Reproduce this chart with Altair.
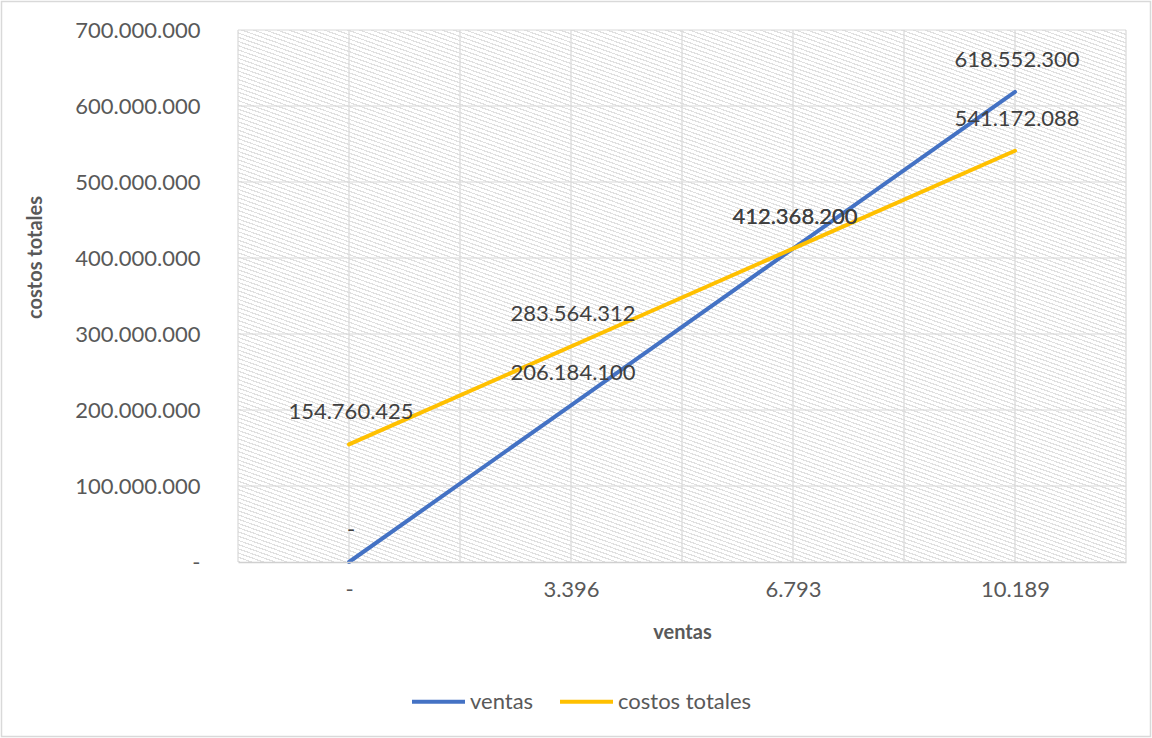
import json
import math
import altair as alt
import pandas as pd

# ---- data ----
unit_labels = ["-", "3.396", "6.793", "10.189"]
ventas = [0, 206184100, 412368200, 618552300]
costos = [154760425, 283564312, 412368200, 541172088]
series_names = ["ventas", "costos totales"]
series_colors = ["#4472C4", "#FFC000"]
y_ticks = [0, 100000000, 200000000, 300000000, 400000000, 500000000, 600000000, 700000000]

rows = []
for i, lab in enumerate(unit_labels):
    rows.append({"idx": i, "serie": "ventas", "valor": ventas[i]})
    rows.append({"idx": i, "serie": "costos totales", "valor": costos[i]})
df = pd.DataFrame(rows)

W, H = 888, 532
FONT = "Lato"

# ---- hatch style for the plot background (light downward diagonal) ----
span = (W + H) / math.sqrt(2)
period = 4.4
stripe = 1.3
stops = []
k = 0
while k * period < span:
    t0 = k * period / span
    t1 = min((k * period + stripe) / span, 1.0)
    t2 = min((k + 1) * period / span, 1.0)
    stops += [
        alt.GradientStop(color="#e0e0e0", offset=t0),
        alt.GradientStop(color="#e0e0e0", offset=t1),
        alt.GradientStop(color="#ffffff", offset=t1),
        alt.GradientStop(color="#ffffff", offset=t2),
    ]
    k += 1
end_x = (span / math.sqrt(2)) / W
end_y = (H - span / math.sqrt(2)) / H
hatch = alt.Gradient(gradient="linear", stops=stops, x1=0, y1=1, x2=end_x, y2=end_y)

x_values = [v / 2 for v in range(-1, 2 * len(unit_labels))]
lab_arr = json.dumps(unit_labels)

x_scale = alt.Scale(domain=[-0.5, len(unit_labels) - 0.5], nice=False, zero=False)
y_scale = alt.Scale(domain=[0, 700000000], nice=False)

x_axis = alt.Axis(
    values=x_values,
    labelExpr=f"datum.value >= 0 && datum.value % 1 == 0 ? {lab_arr}[datum.value] : ''",
    grid=False,
    ticks=False, domain=True, domainColor="#d0d0d0", domainWidth=1.5,
    labelFont=FONT, labelFontSize=22, labelColor="#595959", labelPadding=17,
    title="ventas", titleFont=FONT, titleFontSize=20, titleFontWeight="bold",
    titleColor="#595959", titleX=W / 2, titleY=70, titleBaseline="middle",
    labelFlush=False, labelOverlap=False, zindex=1,
)
y_axis = alt.Axis(
    values=y_ticks,
    labelExpr="datum.value == 0 ? '-' : replace(format(datum.value, ','), regexp(',', 'g'), '.')",
    grid=False,
    ticks=False, domain=False,
    labelFont=FONT, labelFontSize=22, labelColor="#595959", labelPadding=38,
    title="costos totales", titleFont=FONT, titleFontSize=20, titleFontWeight="bold",
    titleColor="#595959", titleX=-203, titleY=227, titleAngle=270,
    titleBaseline="middle", titleAlign="center", zindex=1,
)

x_enc = alt.X("idx:Q", scale=x_scale, axis=x_axis)
y_enc = alt.Y("valor:Q", scale=y_scale, axis=y_axis)
color_enc = alt.Color(
    "serie:N",
    scale=alt.Scale(domain=series_names, range=series_colors),
    legend=alt.Legend(
        title=None, orient="none", legendX=172, legendY=643, direction="horizontal",
        symbolType="stroke", symbolSize=2809, symbolStrokeWidth=4,
        labelFont=FONT, labelFontSize=22, labelColor="#595959", labelOffset=3,
        columnPadding=18,
    ),
)

base = alt.Chart(df)

frame = alt.Chart(pd.DataFrame({"a": [0]})).mark_rect(
    filled=False, stroke="#d9d9d9", strokeWidth=1.5, clip=False
).encode(
    x=alt.value(-236.5), x2=alt.value({"expr": "width + 24.5"}),
    y=alt.value(-28.5), y2=alt.value({"expr": "height + 174.5"}),
)

background = alt.Chart(pd.DataFrame({"a": [0]})).mark_rect(fill=hatch, stroke=None).encode(
    x=alt.value(0), x2=alt.value("width"), y=alt.value(0), y2=alt.value("height")
)

vgrid = alt.Chart(pd.DataFrame({"idx": x_values})).mark_rule(
    color="#d9d9d9", strokeWidth=1.2
).encode(x=x_enc, y=alt.value(0), y2=alt.value("height"))

hgrid = alt.Chart(pd.DataFrame({"valor": y_ticks[1:]})).mark_rule(
    color="#d9d9d9", strokeWidth=1.2
).encode(y=y_enc, x=alt.value(0), x2=alt.value("width"))

line_v = base.transform_filter(alt.datum.serie == "ventas").mark_line(
    strokeWidth=4, strokeCap="round"
).encode(x=x_enc, y=y_enc, color=color_enc)
line_c = base.transform_filter(alt.datum.serie == "costos totales").mark_line(
    strokeWidth=4, strokeCap="round"
).encode(x=x_enc, y=y_enc, color=color_enc)

labels = base.transform_calculate(
    txt="datum.valor == 0 ? '-' : replace(format(datum.valor, ','), regexp(',', 'g'), '.')"
).mark_text(font=FONT, fontSize=22, color="#404040", dy=-32, dx=2, align="center",
            baseline="middle").encode(x=x_enc, y=y_enc, text="txt:N")

chart = alt.layer(frame, background, vgrid, hgrid, line_v, line_c, labels).properties(
    width=W, height=H,
    autosize=alt.AutoSizeParams(type="none"),
    padding={"left": 238, "top": 30, "right": 26, "bottom": 176},
    background="white",
).configure_view(stroke=None)

chart.save("out.html", embed_options={"renderer": "svg", "actions": False})
